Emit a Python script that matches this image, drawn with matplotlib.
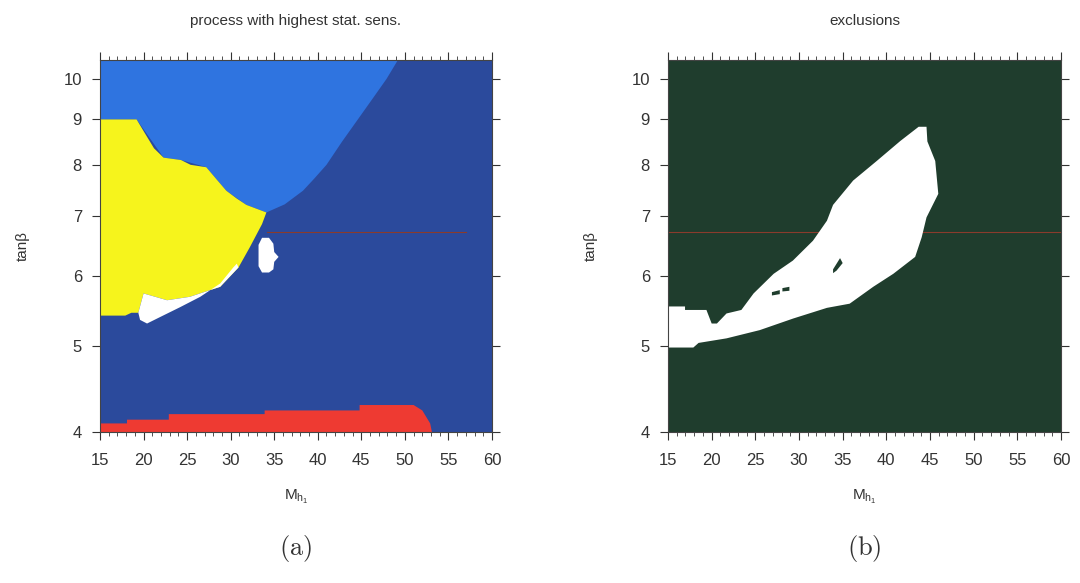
import matplotlib
matplotlib.use("Agg")
import matplotlib.pyplot as plt
from matplotlib.ticker import FixedLocator, FixedFormatter, MultipleLocator, NullLocator

plt.rcParams['font.family'] = ['Liberation Sans', 'DejaVu Sans']

XLIM = (15, 60)
YLIM = (4, 10.5)
YTICKS = [4, 5, 6, 7, 8, 9, 10]
XTICKS = [15, 20, 25, 30, 35, 40, 45, 50, 55, 60]

# colours
DARK_BLUE = '#2b4a9c'
LIGHT_BLUE = '#2f74e0'
YELLOW = '#f6f41c'
RED = '#ee3a32'
DARK_GREEN = '#1f3d2d'
LINE_RED = '#8a3b2c'

# red horizontal line (tan beta)
line_tanb = 6.72
line_a_x = [34.2, 57.0]
line_b_x = [15.0, 60.0]

# panel (a): light blue region (top-left, bounded by dark blue and yellow)
lblue_m = [15.0, 49.2, 47.9, 46.3, 44.6, 42.8, 41.0, 39.6, 38.3, 36.2, 34.1,
           31.8, 29.5, 27.2, 24.3, 22.3, 19.2, 15.0]
lblue_t = [10.5, 10.5, 10.0, 9.5, 9.0, 8.5, 8.0, 7.72, 7.48, 7.22, 7.07,
           7.21, 7.48, 7.95, 8.10, 8.15, 9.0, 9.0]

# panel (a): yellow region
yellow_m = [15.0, 19.2, 20.1, 21.2, 22.3, 24.3, 25.4, 27.2, 28.4, 29.5, 30.7, 31.8, 34.1,
            33.6, 32.2, 30.9, 28.8, 25.3, 22.7, 20.0, 19.4, 18.6, 17.9, 15.0]
yellow_t = [9.0, 9.0, 8.7, 8.35, 8.15, 8.10, 8.0, 7.95, 7.7, 7.48, 7.33, 7.21, 7.07,
            6.86, 6.46, 6.13, 5.83, 5.68, 5.63, 5.73, 5.45, 5.45, 5.41, 5.41]

# panel (a): white band under the yellow region
wband_m = [19.4, 20.0, 22.7, 25.3, 28.8, 30.9, 30.7, 30.3, 28.8, 26.5, 24.2, 21.9, 20.4, 19.6]
wband_t = [5.45, 5.73, 5.63, 5.68, 5.83, 6.13, 6.19, 6.13, 5.88, 5.68, 5.53, 5.39, 5.30, 5.35]

# panel (a): small white blob
blob_m = [33.6, 34.4, 34.9, 35.0, 35.5, 35.0, 34.9, 34.4, 33.6, 33.2, 33.2]
blob_t = [6.62, 6.62, 6.52, 6.38, 6.30, 6.22, 6.10, 6.05, 6.05, 6.15, 6.50]

# panel (a): red strip at the bottom
red_m = [15.0, 15.0, 18.1, 18.1, 22.9, 22.9, 33.9, 33.9, 44.8, 44.8, 51.0, 52.0, 52.9, 53.1]
red_t = [4.0, 4.09, 4.09, 4.13, 4.13, 4.19, 4.19, 4.23, 4.23, 4.29, 4.29, 4.23, 4.09, 4.0]

# panel (b): white (allowed) region
excl_m = [15.0, 16.95, 16.95, 19.4, 20.0, 20.6, 21.7, 23.4, 24.8, 27.1, 29.3, 31.6, 33.2, 33.9,
          36.2, 38.9, 41.6, 43.7, 44.6, 44.7, 45.6, 45.95, 44.6, 44.05, 43.3, 40.8, 38.5,
          35.8, 33.2, 29.35, 25.5, 21.7, 18.5, 17.9, 15.0]
excl_t = [5.54, 5.54, 5.49, 5.49, 5.30, 5.30, 5.44, 5.49, 5.73, 6.03, 6.24, 6.57, 6.92, 7.21,
          7.68, 8.08, 8.51, 8.83, 8.83, 8.50, 8.08, 7.42, 6.98, 6.63, 6.30, 6.03, 5.83,
          5.58, 5.52, 5.37, 5.21, 5.10, 5.04, 4.98, 4.98]

# panel (b): small excluded specks inside the white region
speck1_m = [33.9, 34.7, 35.0, 34.3, 33.9]
speck1_t = [6.10, 6.28, 6.20, 6.08, 6.04]
speck2_m = [26.9, 27.8, 27.8, 26.9]
speck2_t = [5.75, 5.78, 5.72, 5.70]
speck3_m = [28.1, 28.9, 28.9, 28.1]
speck3_t = [5.81, 5.83, 5.77, 5.76]


def style_axes(ax):
    ax.set_yscale('log')
    ax.set_xlim(*XLIM)
    ax.set_ylim(*YLIM)
    ax.yaxis.set_major_locator(FixedLocator(YTICKS))
    ax.yaxis.set_major_formatter(FixedFormatter([str(t) for t in YTICKS]))
    ax.yaxis.set_minor_locator(NullLocator())
    ax.xaxis.set_major_locator(FixedLocator(XTICKS))
    ax.xaxis.set_minor_locator(MultipleLocator(1))
    ax.tick_params(which='major', direction='out', length=6, width=0.8, pad=7,
                   top=True, right=True, labelsize=12, colors='#333333', labelcolor='#333333')
    ax.tick_params(axis='x', which='major', pad=9)
    ax.tick_params(which='minor', direction='out', length=3, width=0.6, top=True, colors='#333333')
    for s in ax.spines.values():
        s.set_color('#444444')
        s.set_linewidth(0.8)
    ax.set_ylabel('tanβ', fontsize=11, color='#333333', labelpad=24)
    ax.set_xlabel(r'M$_{\mathregular{h_1}}$', fontsize=11, color='#333333', labelpad=14)


fig = plt.figure(figsize=(10.8, 5.83), dpi=100)
ax1 = fig.add_axes([100 / 1080, 1 - 432 / 583, 392 / 1080, 372 / 583])
ax2 = fig.add_axes([668 / 1080, 1 - 432 / 583, 393 / 1080, 372 / 583])

# panel (a)
ax1.set_facecolor(DARK_BLUE)
ax1.fill(lblue_m, lblue_t, color=LIGHT_BLUE, lw=0)
ax1.fill(yellow_m, yellow_t, color=YELLOW, lw=0)
ax1.fill(wband_m, wband_t, color='white', lw=0)
ax1.fill(blob_m, blob_t, color='white', lw=0)
ax1.fill(red_m, red_t, color=RED, lw=0)
ax1.plot(line_a_x, [line_tanb, line_tanb], color=LINE_RED, lw=0.8)
style_axes(ax1)
ax1.set_title('process with highest stat. sens.', fontsize=11, color='#333333', pad=25)

# panel (b)
ax2.set_facecolor(DARK_GREEN)
ax2.plot(line_b_x, [line_tanb, line_tanb], color=LINE_RED, lw=0.8, zorder=1)
ax2.fill(excl_m, excl_t, color='white', lw=0, zorder=2)
for sm, st in [(speck1_m, speck1_t), (speck2_m, speck2_t), (speck3_m, speck3_t)]:
    ax2.fill(sm, st, color=DARK_GREEN, lw=0, zorder=3)
style_axes(ax2)
ax2.set_title('exclusions', fontsize=11, color='#333333', pad=25)

fig.text(296 / 1080, 1 - 548 / 583, r'$\mathrm{(a)}$', fontsize=19, math_fontfamily='cm',
         ha='center', va='center', color='#333333')
fig.text(864 / 1080, 1 - 548 / 583, r'$\mathrm{(b)}$', fontsize=19, math_fontfamily='cm',
         ha='center', va='center', color='#333333')

fig.savefig('out.png', dpi=100)
